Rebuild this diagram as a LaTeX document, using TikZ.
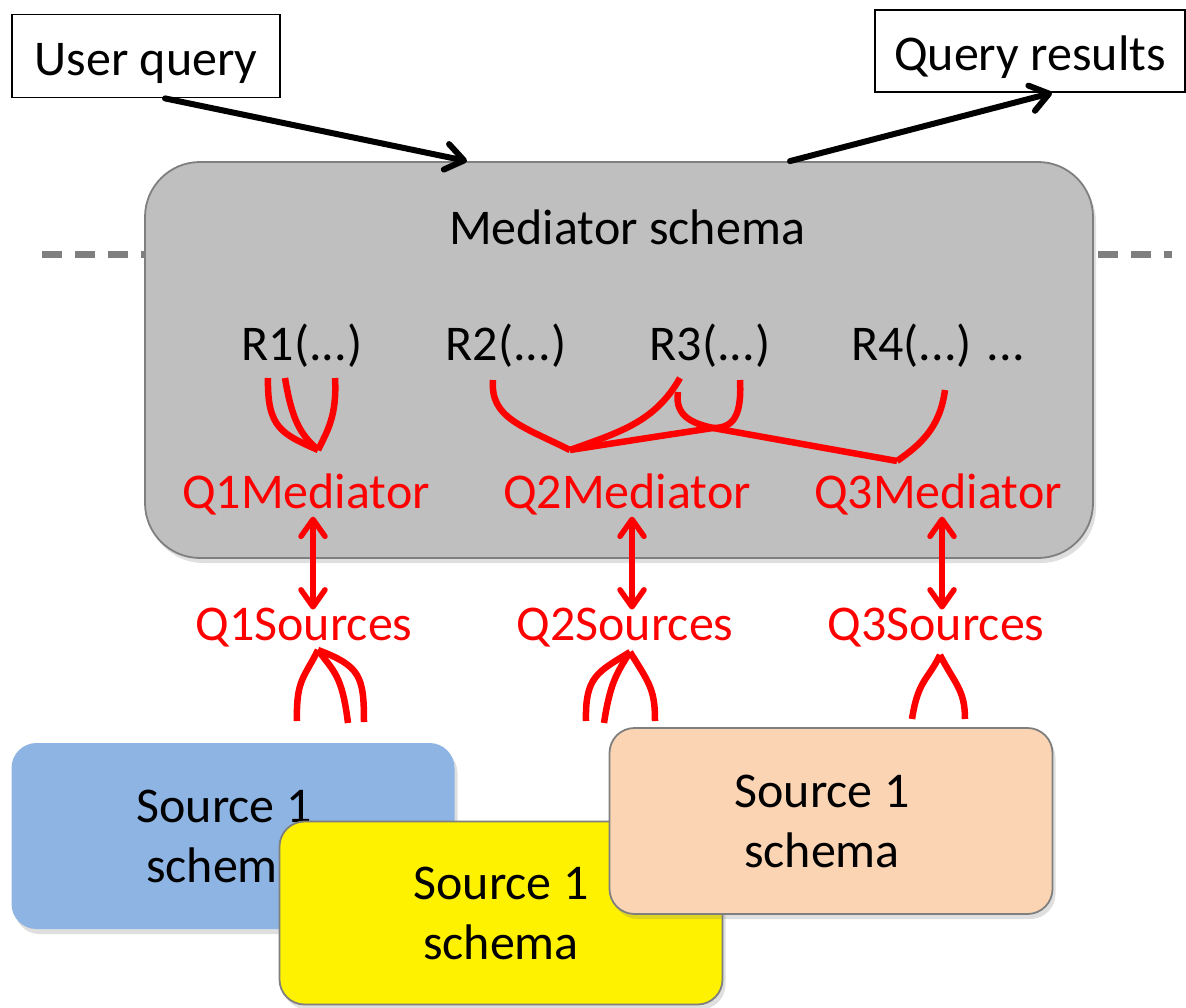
\documentclass[tikz,border=0pt]{standalone}
\usepackage{fontspec}
\setmainfont{Carlito}
\usetikzlibrary{arrows.meta,shadows}

\definecolor{medgray}{HTML}{BFBFBF}
\definecolor{edgegray}{HTML}{7F7F7F}
\definecolor{srcblue}{HTML}{8EB4E3}
\definecolor{srcpeach}{HTML}{FBD4B4}

\tikzset{
  txt/.style={font=\fontsize{50}{60}\selectfont, inner sep=3pt},
  redtxt/.style={txt, text=red, outer sep=0pt},
  qbox/.style={txt, draw, line width=1.8pt, fill=white, minimum height=83pt, text height=40pt, text depth=0pt},
  soft/.style={drop shadow={opacity=0.25, shadow xshift=3pt, shadow yshift=-5pt}},
  medbox/.style={draw=edgegray, line width=1.8pt, fill=medgray, rounded corners=55pt, minimum width=948pt, minimum height=396pt, soft},
  srcbox/.style={txt, align=center, line width=1.8pt, rounded corners=25pt, minimum width=443pt, minimum height=186pt, soft},
  divider/.style={edgegray, line width=7pt, dash pattern=on 20pt off 13pt},
  feed/.style={line width=6pt, line cap=round, -{Straight Barb[length=18pt,width=26pt,round]}},
  twoway/.style={red, line width=5.5pt, {Straight Barb[length=17pt,width=24pt,round]}-{Straight Barb[length=17pt,width=24pt,round]}},
  link/.style={red, line width=6.5pt},
}

\begin{document}
\begin{tikzpicture}[x=1pt, y=-1pt]
  \useasboundingbox (0,0) rectangle (1186,1008);

  \coordinate (dl) at (42,255);
  \coordinate (dr) at (1172,255);
  \draw[divider] (dl) -- (dr);

  \node[medbox] (med) at (619,360) {};
  \node[txt, anchor=base] (medname) at (627,245) {Mediator schema};
  \node[txt, anchor=base] (r1) at (302,360) {R1(...)};
  \node[txt, anchor=base] (r2) at (506,360) {R2(...)};
  \node[txt, anchor=base] (r3) at (710,360) {R3(...)};
  \node[txt, anchor=base] (r4) at (938,360) {R4(...) ...};

  \node[redtxt, anchor=base] (q1med) at (306,508) {Q1Mediator};
  \node[redtxt, anchor=base] (q2med) at (627,508) {Q2Mediator};
  \node[redtxt, anchor=base] (q3med) at (938,508) {Q3Mediator};
  \node[redtxt, anchor=base] (q1src) at (304,640) {Q1Sources};
  \node[redtxt, anchor=base] (q2src) at (625,640) {Q2Sources};
  \node[redtxt, anchor=base] (q3src) at (936,640) {Q3Sources};

  \node[qbox, minimum width=268pt] (uq) at (146,56) {User query};
  \node[qbox, minimum width=310pt, minimum height=82pt] (qr) at (1030,51) {Query results};

  \node[srcbox, fill=srcblue] (s1) at (233,836) {Source 1\hspace*{18pt}\\schema\hspace*{18pt}};
  \node[srcbox, draw=edgegray, fill=yellow, minimum height=183pt] (s2) at (501,913) {Source 1\\schema};
  \node[srcbox, draw=edgegray, fill=srcpeach] (s3) at (831,821) {Source 1\hspace*{18pt}\\schema\hspace*{18pt}};

  \draw[feed] ([xshift=19pt]uq.south) -- ([xshift=-152pt]med.north);
  \draw[feed] ([xshift=171pt]med.north) -- ([xshift=22pt]qr.south);

  \draw[twoway, shorten <=-1pt, shorten >=-5pt] ([xshift=7pt]q1med.south) -- ([xshift=9pt]q1src.north);
  \draw[twoway, shorten <=-1pt, shorten >=-5pt] ([xshift=5pt]q2med.south) -- ([xshift=7pt]q2src.north);
  \draw[twoway, shorten <=-1pt, shorten >=-5pt] ([xshift=4pt]q3med.south) -- ([xshift=6pt]q3src.north);

  \foreach \p/\x/\y in {q1m/318/450, q2m/570/450, q3m/897/461, cross/713/428,
      r1a/268/378, r1b/285/378, r1c/335/378, r2a/493/380, r3a/680/378,
      r3b/740/380, r3c/678/392, r4a/945/390,
      q1s/318/650, q2s/630/652, q3s/940/655,
      s1a/297/721, s1b/348/723, s1c/364/722, s2a/586/721, s2b/604/723,
      s2c/655/721, s3a/912/719, s3b/965/719}
    \coordinate (\p) at (\x,\y);

  \draw[link] (r1a) .. controls (267,428) and (282,434) .. (q1m);
  \draw[link] (r1b) .. controls (292,420) and (300,434) .. (q1m);
  \draw[link] (r1c) .. controls (337,415) and (328,430) .. (q1m);
  \draw[link] (r2a) .. controls (490,418) and (522,426) .. (q2m);
  \draw[link] (r3a) .. controls (655,422) and (620,432) .. (q2m);
  \draw[link] (r3b) .. controls (742,418) and (732,428) .. (cross) .. controls (660,436) .. (q2m);
  \draw[link] (r3c) .. controls (674,418) and (696,424) .. (cross) -- (q3m);
  \draw[link] (r4a) .. controls (940,428) and (920,445) .. (q3m);

  \draw[link] (s1a) .. controls (296,680) and (304,678) .. (q1s);
  \draw[link] (s1b) .. controls (342,675) and (334,672) .. (q1s);
  \draw[link] (s1c) .. controls (364,676) and (360,666) .. (q1s);
  \draw[link] (s2a) .. controls (585,676) and (598,672) .. (q2s);
  \draw[link] (s2b) .. controls (610,684) and (616,674) .. (q2s);
  \draw[link] (s2c) .. controls (655,690) and (650,684) .. (q2s);
  \draw[link] (s3a) .. controls (918,680) and (928,680) .. (q3s);
  \draw[link] (s3b) .. controls (965,690) and (955,684) .. (q3s);
\end{tikzpicture}
\end{document}
